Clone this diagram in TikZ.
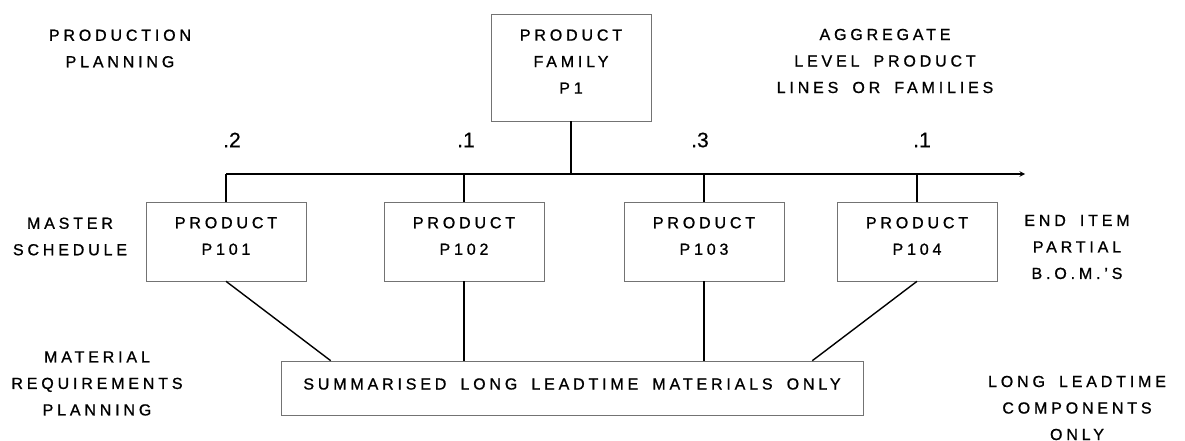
\documentclass[tikz,border=0pt]{standalone}
\usepackage{fontspec}
\setmainfont{Liberation Sans}[LetterSpace=24, FakeBold=1, WordSpace=1.7]
\newfontfamily\weightfont{Liberation Sans}[FakeBold=0.5]
\usepackage{tikz}
\usetikzlibrary{arrows, positioning, calc}

\begin{document}
\begin{tikzpicture}[
    x=1pt, y=-1pt,
    every node/.style={font=\fontsize{16pt}{26.5pt}\selectfont, align=center, inner sep=0pt},
    box/.style={rectangle, draw=black!55, line width=0.6pt, minimum width=160pt},
    link/.style={line width=1.4pt},
    weight/.style={font=\weightfont\fontsize{21pt}{21pt}\selectfont}
]
\useasboundingbox (0,0) rectangle (1185,441);

\node[box, minimum height=107pt, label={[yshift=6pt]center:{PRODUCT\\FAMILY\\P1}}] (fam) at (571,67.5) {};
\foreach \n/\x in {101/226, 102/464, 103/704, 104/917}
    \node[box, minimum height=79pt, label={[yshift=5.5pt]center:{PRODUCT\\P\n}}] (p\n) at (\x,241.5) {};
\node[box, minimum width=582pt, minimum height=54pt, label={[yshift=4pt]center:{SUMMARISED LONG LEADTIME MATERIALS ONLY}}] (sum) at (572,388) {};

\coordinate (busL) at (226,174);
\coordinate (busR) at (1025,174);
\draw[link, -stealth] (busL) -- (busR);
\draw[link] (fam.south) -- (fam.south |- busL);
\foreach \n in {101,...,104}
    \draw[link] (p\n.north |- busL) -- (p\n.north);

\draw[link] (p101.south) -- ([xshift=50pt]sum.north west);
\draw[link] (p102.south) -- (p102.south |- sum.north);
\draw[link] (p103.south) -- (p103.south |- sum.north);
\draw[link] (p104.south) -- ([xshift=-51pt]sum.north east);

\node[weight] (w101) at (232,140) {.2};
\node[weight] (w102) at (466,140) {.1};
\node[weight] (w103) at (700,140) {.3};
\node[weight] (w104) at (922,140) {.1};

\node (plan) at (120,48.5) {PRODUCTION\\PLANNING};
\node (aggr) at (885,61) {AGGREGATE\\LEVEL PRODUCT\\LINES OR FAMILIES};
\node (mast) at (70,236.5) {MASTER\\SCHEDULE};
\node (endi) at (1077,247) {END ITEM\\PARTIAL\\B.O.M.'S};
\node (mrp) at (97,383.5) {MATERIAL\\REQUIREMENTS\\PLANNING};
\node (lltc) at (1077,408) {LONG LEADTIME\\COMPONENTS\\ONLY};

\end{tikzpicture}
\end{document}
